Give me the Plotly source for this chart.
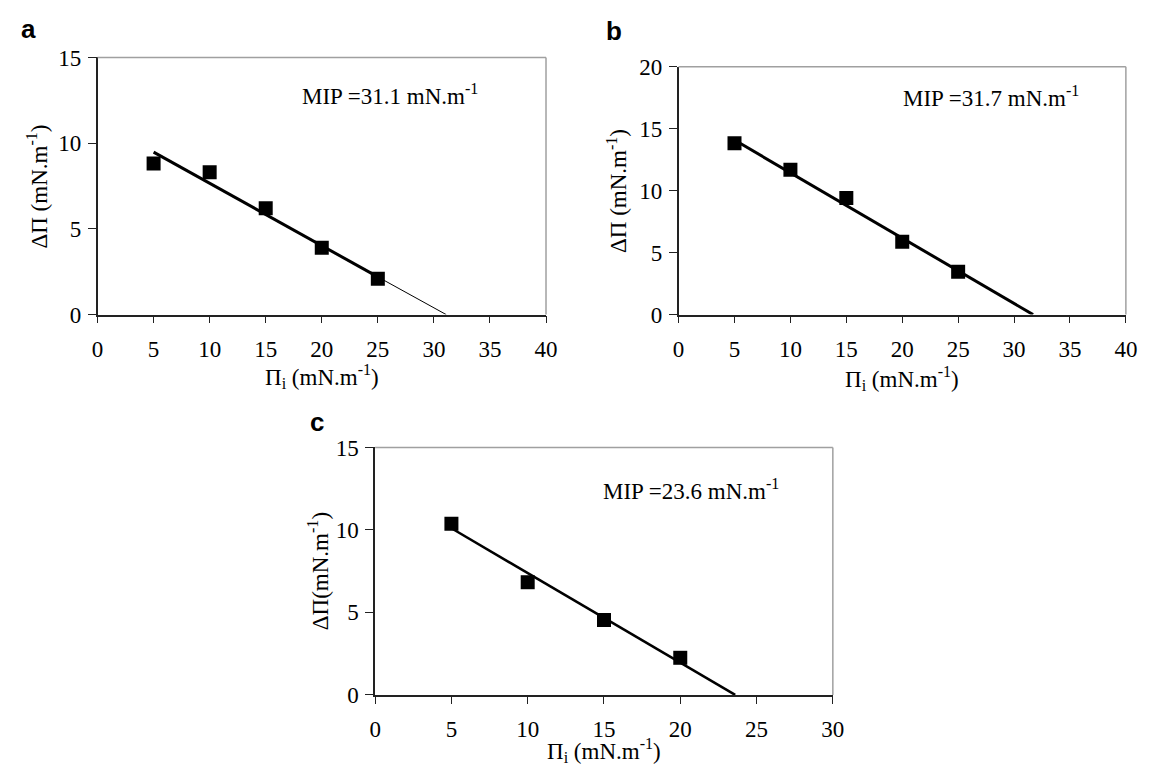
import plotly.graph_objects as go

W, H = 1149, 774

# ---------------- data ----------------
pi_a = [5, 10, 15, 20, 25]
dpi_a = [8.82, 8.31, 6.21, 3.9, 2.09]
fit_a_x = [5, 25]
fit_a_y = [9.48, 2.2]
ext_a_x = [25, 31.1]
ext_a_y = [2.2, 0]

pi_b = [5, 10, 15, 20, 25]
dpi_b = [13.83, 11.69, 9.41, 5.88, 3.45]
fit_b_x = [5, 31.7]
fit_b_y = [14.09, 0]

pi_c = [5, 10, 15, 20]
dpi_c = [10.37, 6.83, 4.54, 2.25]
fit_c_x = [5, 23.6]
fit_c_y = [10.1, 0]

labels = ["MIP =31.1 mN.m<sup>-1</sup>", "MIP =31.7 mN.m<sup>-1</sup>", "MIP =23.6 mN.m<sup>-1</sup>"]
xtitle = "\u03a0<sub>i</sub> (mN.m<sup>-1</sup>)"
ytitle_ab = "\u0394\u03a0 (mN.m<sup>-1</sup>)"
ytitle_c = "\u0394\u03a0(mN.m<sup>-1</sup>)"

SERIF = "Liberation Serif"
FS = 23

def px(x):
    return x / W

def py(y):
    return 1 - y / H

# plot boxes in pixels: left, right, top, bottom
boxes = {
    "a": (93, 548.6, 47, 312.7),
    "b": (683.3, 1137.7, 56.7, 312.7),
    "c": (375, 840, 450, 705.7),
}

fig = go.Figure()

def marker_trace(x, y, xa, ya):
    return go.Scatter(x=x, y=y, mode="markers", xaxis=xa, yaxis=ya,
                      marker=dict(symbol="square", size=14, color="black"),
                      showlegend=False, hoverinfo="skip")

def line_trace(x, y, xa, ya, w):
    return go.Scatter(x=x, y=y, mode="lines", xaxis=xa, yaxis=ya,
                      line=dict(color="black", width=w),
                      showlegend=False, hoverinfo="skip")

fig.add_trace(line_trace(fit_a_x, fit_a_y, "x", "y", 3))
fig.add_trace(line_trace(ext_a_x, ext_a_y, "x", "y", 1))
fig.add_trace(marker_trace(pi_a, dpi_a, "x", "y"))

fig.add_trace(line_trace(fit_b_x, fit_b_y, "x2", "y2", 3))
fig.add_trace(marker_trace(pi_b, dpi_b, "x2", "y2"))

fig.add_trace(line_trace(fit_c_x, fit_c_y, "x3", "y3", 2.5))
fig.add_trace(marker_trace(pi_c, dpi_c, "x3", "y3"))

def xaxis(box, rng, anchor):
    l, r, t, b = box
    return dict(domain=[px(l), px(r)], anchor=anchor, range=rng, dtick=5,
                showgrid=False, zeroline=False, showline=True, linecolor="#222",
                linewidth=1.5, ticks="outside", ticklen=7, tickwidth=1.3,
                tickcolor="#222", tickfont=dict(family=SERIF, size=FS, color="black"),
                ticklabelstandoff=6, fixedrange=True)

def yaxis(box, rng, anchor):
    l, r, t, b = box
    return dict(domain=[py(b), py(t)], anchor=anchor, range=rng, dtick=5,
                showgrid=False, zeroline=False, showline=True, linecolor="#222",
                linewidth=1.5, ticks="outside", ticklen=8, tickwidth=1.3,
                tickcolor="#222", tickfont=dict(family=SERIF, size=FS, color="black"),
                ticklabelstandoff=2, fixedrange=True)

shapes = []
for xa, ya in [("x", "y"), ("x2", "y2"), ("x3", "y3")]:
    shapes.append(dict(type="line", xref=xa + " domain", yref=ya + " domain",
                       x0=0, x1=1, y0=1, y1=1, line=dict(color="#a0a0a0", width=1.5)))
    shapes.append(dict(type="line", xref=xa + " domain", yref=ya + " domain",
                       x0=1, x1=1, y0=0, y1=1, line=dict(color="#a0a0a0", width=1.5)))

ann = []
def text(x, y, s, size=FS, family=SERIF, angle=0, xanchor="center"):
    ann.append(dict(x=px(x), y=py(y), xref="paper", yref="paper", text=s,
                    showarrow=False, textangle=angle, xanchor=xanchor, yanchor="middle",
                    font=dict(family=family, size=size, color="black")))

# panel letters
text(23, 18, "<b>a</b>", size=26, family="Liberation Sans")
text(618, 20, "<b>b</b>", size=26, family="Liberation Sans")
text(316, 424, "<b>c</b>", size=26, family="Liberation Sans")

# MIP annotations
text(299, 85, labels[0], xanchor="left")
text(909, 87, labels[1], xanchor="left")
text(604, 493, labels[2], xanchor="left")

# axis titles
ba, bb, bc = boxes["a"], boxes["b"], boxes["c"]
text((ba[0] + ba[1]) / 2, 377, xtitle)
text((bb[0] + bb[1]) / 2, 379, xtitle)
text((bc[0] + bc[1]) / 2, 763, xtitle)
text(32, (ba[2] + ba[3]) / 2, ytitle_ab, angle=-90)
text(621, (bb[2] + bb[3]) / 2, ytitle_ab, angle=-90)
text(317, (bc[2] + bc[3]) / 2, ytitle_c, angle=-90)

fig.update_layout(
    width=W, height=H,
    margin=dict(l=0, r=0, t=0, b=0),
    paper_bgcolor="white", plot_bgcolor="white",
    xaxis=xaxis(boxes["a"], [0, 40], "y"),
    yaxis=yaxis(boxes["a"], [0, 15], "x"),
    xaxis2=xaxis(boxes["b"], [0, 40], "y2"),
    yaxis2=yaxis(boxes["b"], [0, 20], "x2"),
    xaxis3=xaxis(boxes["c"], [0, 30], "y3"),
    yaxis3=yaxis(boxes["c"], [0, 15], "x3"),
    shapes=shapes,
    annotations=ann,
    showlegend=False,
)

fig.write_html("out.html", config={"displayModeBar": False},
               post_script="document.body.style.margin='0';document.body.style.overflow='hidden';")
